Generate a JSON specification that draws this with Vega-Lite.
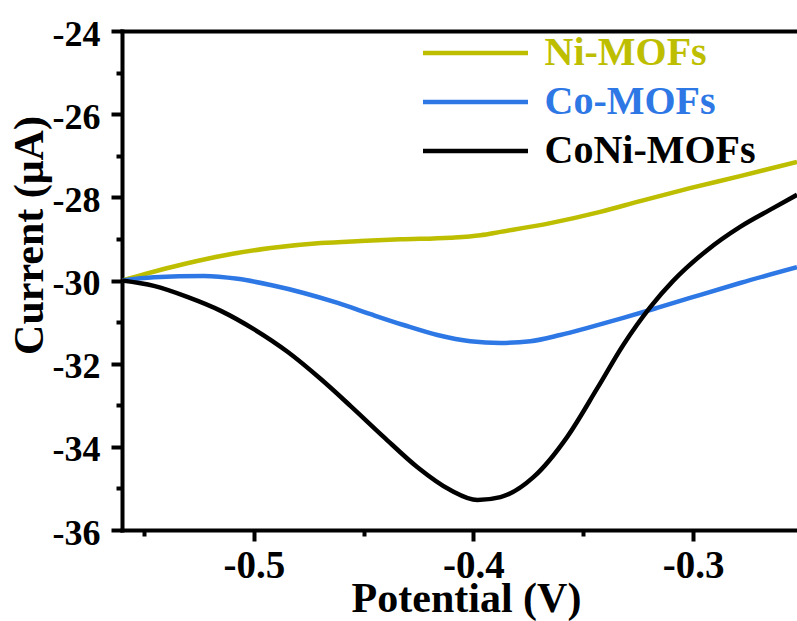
{
  "$schema": "https://vega.github.io/schema/vega-lite/v6.json",
  "width": 675,
  "height": 499,
  "autosize": {"type": "none"},
  "padding": {"left": 122, "top": 31, "right": 0, "bottom": 91},
  "background": "white",
  "config": {
    "view": {"stroke": null},
    "font": "Liberation Serif",
    "axis": {
      "grid": false,
      "domainColor": "black",
      "tickColor": "black",
      "labelColor": "black",
      "titleColor": "black",
      "labelFont": "Liberation Serif",
      "titleFont": "Liberation Serif",
      "labelFontWeight": "bold",
      "titleFontWeight": "bold"
    }
  },
  "data": {
    "values": [
      {"sample": "Ni-MOFs", "potential": -0.56, "current": -30.0},
      {"sample": "Ni-MOFs", "potential": -0.5377, "current": -29.68},
      {"sample": "Ni-MOFs", "potential": -0.515, "current": -29.41},
      {"sample": "Ni-MOFs", "potential": -0.4923, "current": -29.22},
      {"sample": "Ni-MOFs", "potential": -0.4695, "current": -29.1},
      {"sample": "Ni-MOFs", "potential": -0.4514, "current": -29.05},
      {"sample": "Ni-MOFs", "potential": -0.4332, "current": -29.01},
      {"sample": "Ni-MOFs", "potential": -0.4105, "current": -28.97},
      {"sample": "Ni-MOFs", "potential": -0.3968, "current": -28.91},
      {"sample": "Ni-MOFs", "potential": -0.3877, "current": -28.83},
      {"sample": "Ni-MOFs", "potential": -0.365, "current": -28.62},
      {"sample": "Ni-MOFs", "potential": -0.3423, "current": -28.35},
      {"sample": "Ni-MOFs", "potential": -0.3241, "current": -28.09},
      {"sample": "Ni-MOFs", "potential": -0.3014, "current": -27.78},
      {"sample": "Ni-MOFs", "potential": -0.2786, "current": -27.49},
      {"sample": "Ni-MOFs", "potential": -0.2527, "current": -27.15},
      {"sample": "Co-MOFs", "potential": -0.56, "current": -30.0},
      {"sample": "Co-MOFs", "potential": -0.5455, "current": -29.92},
      {"sample": "Co-MOFs", "potential": -0.5227, "current": -29.89},
      {"sample": "Co-MOFs", "potential": -0.5073, "current": -29.96},
      {"sample": "Co-MOFs", "potential": -0.4923, "current": -30.11},
      {"sample": "Co-MOFs", "potential": -0.4773, "current": -30.3},
      {"sample": "Co-MOFs", "potential": -0.4618, "current": -30.54},
      {"sample": "Co-MOFs", "potential": -0.4468, "current": -30.81},
      {"sample": "Co-MOFs", "potential": -0.4318, "current": -31.07},
      {"sample": "Co-MOFs", "potential": -0.4164, "current": -31.31},
      {"sample": "Co-MOFs", "potential": -0.4014, "current": -31.46},
      {"sample": "Co-MOFs", "potential": -0.3877, "current": -31.5},
      {"sample": "Co-MOFs", "potential": -0.3741, "current": -31.46},
      {"sample": "Co-MOFs", "potential": -0.3605, "current": -31.31},
      {"sample": "Co-MOFs", "potential": -0.3468, "current": -31.12},
      {"sample": "Co-MOFs", "potential": -0.3318, "current": -30.9},
      {"sample": "Co-MOFs", "potential": -0.3164, "current": -30.66},
      {"sample": "Co-MOFs", "potential": -0.3014, "current": -30.42},
      {"sample": "Co-MOFs", "potential": -0.2786, "current": -30.06},
      {"sample": "Co-MOFs", "potential": -0.2527, "current": -29.68},
      {"sample": "CoNi-MOFs", "potential": -0.56, "current": -30.0},
      {"sample": "CoNi-MOFs", "potential": -0.5455, "current": -30.13},
      {"sample": "CoNi-MOFs", "potential": -0.53, "current": -30.4},
      {"sample": "CoNi-MOFs", "potential": -0.515, "current": -30.73},
      {"sample": "CoNi-MOFs", "potential": -0.5, "current": -31.17},
      {"sample": "CoNi-MOFs", "potential": -0.4845, "current": -31.72},
      {"sample": "CoNi-MOFs", "potential": -0.4695, "current": -32.37},
      {"sample": "CoNi-MOFs", "potential": -0.4559, "current": -33.02},
      {"sample": "CoNi-MOFs", "potential": -0.4409, "current": -33.76},
      {"sample": "CoNi-MOFs", "potential": -0.4255, "current": -34.49},
      {"sample": "CoNi-MOFs", "potential": -0.4105, "current": -35.04},
      {"sample": "CoNi-MOFs", "potential": -0.3982, "current": -35.28},
      {"sample": "CoNi-MOFs", "potential": -0.3877, "current": -35.21},
      {"sample": "CoNi-MOFs", "potential": -0.3727, "current": -34.73},
      {"sample": "CoNi-MOFs", "potential": -0.3573, "current": -33.76},
      {"sample": "CoNi-MOFs", "potential": -0.3436, "current": -32.59},
      {"sample": "CoNi-MOFs", "potential": -0.3318, "current": -31.55},
      {"sample": "CoNi-MOFs", "potential": -0.3195, "current": -30.64},
      {"sample": "CoNi-MOFs", "potential": -0.3091, "current": -30.01},
      {"sample": "CoNi-MOFs", "potential": -0.2936, "current": -29.27},
      {"sample": "CoNi-MOFs", "potential": -0.2786, "current": -28.71},
      {"sample": "CoNi-MOFs", "potential": -0.2636, "current": -28.26},
      {"sample": "CoNi-MOFs", "potential": -0.2527, "current": -27.94}
    ]
  },
  "layer": [
    {
      "mark": {"type": "line", "strokeWidth": 4.5, "interpolate": "monotone", "clip": true},
      "encoding": {
        "x": {
          "field": "potential", "type": "quantitative",
          "scale": {"domain": [-0.56, -0.2527], "nice": false, "zero": false},
          "axis": {
            "orient": "bottom",
            "values": [-0.5, -0.4, -0.3],
            "labelExpr": "toString(datum.value)",
            "title": "Potential (V)",
            "titleFontSize": 42,
            "titleBaseline": "alphabetic",
            "titleAlign": "center",
            "titleX": 344,
            "titleY": 81,
            "labelFontSize": 39,
            "labelPadding": 5,
            "labelFlush": false,
            "tickSize": 11,
            "tickWidth": 4,
            "domainWidth": 4,
            "domainCap": "square"
          }
        },
        "y": {
          "field": "current", "type": "quantitative",
          "scale": {"domain": [-36, -24], "nice": false, "zero": false},
          "axis": {
            "orient": "left",
            "values": [-36, -34, -32, -30, -28, -26, -24],
            "labelExpr": "toString(datum.value)",
            "title": "Current (μA)",
            "titleFontSize": 42,
            "titleBaseline": "alphabetic",
            "titleAlign": "center",
            "titleAngle": 270,
            "titleX": -80,
            "titleY": 204,
            "labelFontSize": 36,
            "labelPadding": 11,
            "labelBaseline": "alphabetic",
            "labelOffset": 14,
            "labelFlush": false,
            "tickSize": 11,
            "tickWidth": 4,
            "domainWidth": 4,
            "domainCap": "square"
          }
        },
        "color": {
          "field": "sample", "type": "nominal",
          "scale": {
            "domain": ["Ni-MOFs", "Co-MOFs", "CoNi-MOFs"],
            "range": ["#BEBE00", "#2E78E6", "#000000"]
          },
          "legend": {
            "orient": "none",
            "legendX": 301,
            "legendY": 2,
            "title": null,
            "padding": 0,
            "symbolType": "M-5,0H5",
            "symbolSize": 441,
            "symbolStrokeWidth": 4.5,
            "symbolOffset": 32.5,
            "labelOffset": 49,
            "labelFont": "Liberation Serif",
            "labelFontSize": 40,
            "labelFontWeight": "bold",
            "labelLimit": 500,
            "rowPadding": 9,
            "encode": {
              "labels": {"update": {"fill": {"scale": "color", "field": "value"}}}
            }
          }
        }
      }
    },
    {
      "mark": {"type": "line", "opacity": 0},
      "encoding": {
        "x": {
          "field": "potential", "type": "quantitative",
          "axis": {
            "orient": "bottom",
            "values": [-0.55, -0.45, -0.35],
            "labels": false, "domain": false, "title": null,
            "tickSize": 6, "tickWidth": 4
          }
        },
        "y": {
          "field": "current", "type": "quantitative",
          "axis": {
            "orient": "left",
            "values": [-35, -33, -31, -29, -27, -25],
            "labels": false, "domain": false, "title": null,
            "tickSize": 6, "tickWidth": 4
          }
        },
        "detail": {"field": "sample", "type": "nominal"}
      }
    },
    {
      "mark": {"type": "line", "opacity": 0},
      "encoding": {
        "x": {
          "field": "potential", "type": "quantitative",
          "axis": {
            "orient": "top",
            "ticks": false, "labels": false, "title": null,
            "domain": true, "domainWidth": 4, "domainCap": "square"
          }
        },
        "y": {"field": "current", "type": "quantitative", "axis": null},
        "detail": {"field": "sample", "type": "nominal"}
      }
    }
  ],
  "resolve": {"axis": {"x": "independent", "y": "independent"}}
}
